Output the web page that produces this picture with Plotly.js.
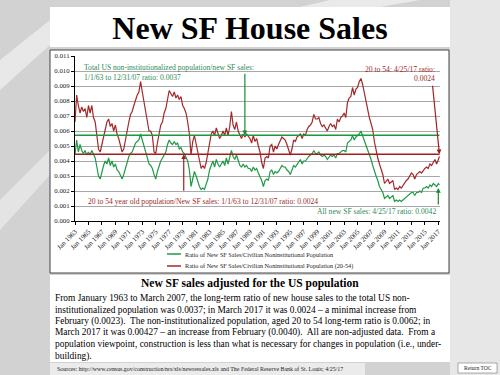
<!DOCTYPE html>
<html>
<head>
<meta charset="utf-8">
<script src="https://cdn.plot.ly/plotly-3.0.1.min.js"></script>
<style>html,body{margin:0;padding:0;background:#d6d6d6;}#chart{width:500px;height:375px;}</style>
</head>
<body>
<div id="chart"></div>
<script>
// ---- Data (quarterly readings, Jan/Apr/Jul/Oct from Jan 1963; last point Mar 2017) ----
const startYear = 1963;
const lastDate = '2017-03-01';
const ratioTotal = [
0.0044,0.0054,0.0046,0.0051, 0.0047,0.0045,0.0047,0.0044, 0.0046,0.0044,0.0047,0.0044,
0.0042,0.0036,0.0030,0.0028, 0.0033,0.0037,0.0040,0.0038, 0.0042,0.0037,0.0040,0.0036,
0.0038,0.0034,0.0033,0.0030, 0.0028,0.0031,0.0035,0.0038, 0.0043,0.0045,0.0046,0.0049,
0.0052,0.0053,0.0054,0.0058, 0.0054,0.0049,0.0046,0.0042, 0.0038,0.0037,0.0035,0.0031,
0.0028,0.0033,0.0037,0.0040, 0.0042,0.0044,0.0046,0.0051, 0.0054,0.0052,0.0051,0.0053,
0.0051,0.0052,0.0048,0.0049, 0.0046,0.0045,0.0043,0.0040, 0.0034,0.0023,0.0028,0.0033,
0.0030,0.0026,0.0023,0.0021, 0.0022,0.0021,0.0024,0.0028, 0.0034,0.0037,0.0040,0.0036,
0.0041,0.0038,0.0036,0.0038, 0.0040,0.0037,0.0042,0.0038, 0.0043,0.0047,0.0043,0.0041,
0.0044,0.0040,0.0037,0.0036, 0.0038,0.0036,0.0037,0.0035, 0.0035,0.0033,0.0036,0.0034,
0.0035,0.0032,0.0030,0.0027, 0.0023,0.0027,0.0028,0.0027, 0.0033,0.0034,0.0031,0.0033,
0.0032,0.0033,0.0035,0.0037, 0.0036,0.0036,0.0034,0.0033, 0.0031,0.0034,0.0037,0.0036,
0.0038,0.0040,0.0041,0.0038, 0.0040,0.0040,0.0042,0.0043, 0.0044,0.0045,0.0047,0.0045,
0.0045,0.0046,0.0044,0.0043, 0.0044,0.0043,0.0041,0.0043, 0.0044,0.0043,0.0044,0.0042,
0.0045,0.0045,0.0046,0.0047, 0.0047,0.0046,0.0052,0.0053, 0.0054,0.0057,0.0054,0.0056,
0.0057,0.0058,0.0060,0.0057, 0.0054,0.0051,0.0047,0.0044, 0.0041,0.0037,0.0033,0.0030,
0.0027,0.0023,0.0021,0.0019, 0.0015,0.0016,0.0017,0.0015, 0.0016,0.0017,0.0013,0.0014,
0.0013,0.0014,0.0013,0.0014, 0.0015,0.0016,0.0017,0.0018, 0.0019,0.0019,0.0017,0.0019,
0.0019,0.0020,0.0019,0.0022, 0.0022,0.0023,0.0022,0.0024, 0.0023,0.0025,0.0024,0.0023,
0.0025,0.0024];
const ratio2054 = [
0.0066,0.0084,0.0077,0.0072, 0.0076,0.0073,0.0075,0.0069, 0.0077,0.0072,0.0077,0.0069,
0.0066,0.0057,0.0048,0.0046, 0.0051,0.0057,0.0063,0.0066, 0.0068,0.0063,0.0065,0.0060,
0.0064,0.0058,0.0055,0.0050, 0.0046,0.0048,0.0055,0.0059, 0.0066,0.0071,0.0073,0.0077,
0.0081,0.0084,0.0086,0.0093, 0.0086,0.0079,0.0074,0.0066, 0.0060,0.0060,0.0057,0.0046,
0.0045,0.0052,0.0059,0.0064, 0.0066,0.0072,0.0075,0.0082, 0.0087,0.0085,0.0083,0.0086,
0.0082,0.0084,0.0081,0.0083, 0.0077,0.0075,0.0072,0.0066, 0.0058,0.0044,0.0053,0.0057,
0.0051,0.0045,0.0039,0.0035, 0.0037,0.0035,0.0039,0.0046, 0.0053,0.0058,0.0060,0.0057,
0.0062,0.0058,0.0055,0.0057, 0.0060,0.0057,0.0062,0.0057, 0.0063,0.0073,0.0064,0.0061,
0.0066,0.0060,0.0057,0.0055, 0.0058,0.0056,0.0058,0.0056, 0.0055,0.0052,0.0057,0.0053,
0.0055,0.0050,0.0046,0.0039, 0.0035,0.0042,0.0043,0.0042, 0.0050,0.0051,0.0046,0.0050,
0.0048,0.0051,0.0053,0.0056, 0.0055,0.0054,0.0051,0.0047, 0.0044,0.0048,0.0054,0.0053,
0.0056,0.0057,0.0058,0.0055, 0.0058,0.0057,0.0061,0.0063, 0.0064,0.0066,0.0071,0.0068,
0.0068,0.0069,0.0065,0.0063, 0.0064,0.0062,0.0060,0.0063, 0.0065,0.0063,0.0064,0.0061,
0.0068,0.0066,0.0069,0.0070, 0.0072,0.0069,0.0079,0.0082, 0.0083,0.0089,0.0084,0.0088,
0.0089,0.0093,0.0095,0.0091, 0.0085,0.0080,0.0074,0.0069, 0.0065,0.0061,0.0053,0.0047,
0.0042,0.0038,0.0034,0.0031, 0.0025,0.0027,0.0028,0.0025, 0.0026,0.0027,0.0021,0.0022,
0.0021,0.0023,0.0022,0.0024, 0.0025,0.0027,0.0028,0.0030, 0.0032,0.0031,0.0028,0.0031,
0.0032,0.0033,0.0032,0.0034, 0.0035,0.0036,0.0035,0.0038, 0.0037,0.0039,0.0041,0.0038,
0.0042,0.0043];
const refTotal = 0.00571;   // green long-term reference line
const ref2054 = 0.00445;    // red long-term reference line
const refStart = '1963-01-01', refEnd = '2017-03-01';
const seriesNames = ['Ratio of New SF Sales/Civilian Noninstitutional Population',
                     'Ratio of New SF Sales/Civilian Noninstitutional Population (20-54)'];
const paragraph = [
 'From January 1963 to March 2007, the long-term ratio of new house sales to the total US non-',
 'institutionalized population was 0.0037; in March 2017 it was 0.0024 \u2013 a minimal increase from',
 'February (0.0023).  The non-institutionalized population, aged 20 to 54 long-term ratio is 0.0062; in',
 'March 2017 it was 0.00427 \u2013 an increase from February (0.0040).  All are non-adjusted data.  From a',
 'population viewpoint, construction is less than what is necessary for changes in population (i.e., under-',
 'building).'];

// dates
const dates = ratioTotal.map((_, i) => {
  const y = startYear + Math.floor(i / 4), m = 1 + 3 * (i % 4);
  return y + '-' + String(m).padStart(2, '0') + '-01';
});
dates[dates.length - 1] = lastDate;

// ---- layout helpers (pixel -> paper) ----
const M = {l: 75, r: 60, t: 56, b: 154};
const PW = 500 - M.l - M.r, PH = 375 - M.t - M.b;
const px = x => (x - M.l) / PW;
const py = y => (375 - M.b - y) / PH;
const SERIF = 'Liberation Serif, Times New Roman, serif';
const GREEN = '#1f9a45', RED = '#a3282a', GTXT = '#2e8b57', RTXT = '#9e2a2a';

const traces = [
  {x: dates, y: ratioTotal, type: 'scatter', mode: 'lines', name: seriesNames[0],
   line: {color: GREEN, width: 1.2}, showlegend: false},
  {x: dates, y: ratio2054, type: 'scatter', mode: 'lines', name: seriesNames[1],
   line: {color: RED, width: 1.2}, showlegend: false}
];

function rect(x0, y0, x1, y1, fill, line) {
  return {type: 'rect', xref: 'paper', yref: 'paper', x0: px(x0), x1: px(x1), y0: py(y0), y1: py(y1),
          fillcolor: fill, line: line || {width: 0}, layer: 'below'};
}
function poly(pts, fill) {
  const d = pts.map((p, i) => (i ? 'L' : 'M') + px(p[0]).toFixed(4) + ',' + py(p[1]).toFixed(4)).join(' ') + ' Z';
  return {type: 'path', xref: 'paper', yref: 'paper', path: d, fillcolor: fill, line: {width: 0}, layer: 'below'};
}
function hline(x0, x1, y, color) {
  return {type: 'line', xref: 'paper', yref: 'paper', x0: px(x0), x1: px(x1), y0: py(y), y1: py(y),
          line: {color: color, width: 1.5}};
}
const shapes = [
  // background "photo" light areas
  rect(450, 0, 500, 375, 'rgba(240,240,240,0.7)'),
  poly([[0, 60], [50, 20], [50, 45], [0, 90]], 'rgba(250,250,250,0.55)'),
  poly([[0, 200], [50, 150], [50, 175], [0, 230]], 'rgba(250,250,250,0.45)'),
  poly([[330, 0], [420, 0], [380, 7], [300, 7]], 'rgba(250,250,250,0.6)'),
  rect(50, 7, 450, 47, '#ffffff'),
  rect(50, 50, 449, 273, '#ffffff', {color: '#444', width: 1}),
  rect(50, 275, 450, 362, '#ffffff'),
  rect(50, 363, 365, 375, 'rgba(255,255,255,0.55)'),
  rect(458, 363, 497, 373, '#ffffff', {color: '#777', width: 0.6}),
  {type: 'line', xref: 'x', yref: 'y', x0: refStart, x1: refEnd, y0: refTotal, y1: refTotal,
   line: {color: '#1a9a3a', width: 1.5}},
  {type: 'line', xref: 'x', yref: 'y', x0: refStart, x1: refEnd, y0: ref2054, y1: ref2054,
   line: {color: '#a01e22', width: 1.5}},
  hline(167, 181, 254, GREEN),
  hline(167, 181, 266, RED)
];

function txt(x, y, text, size, color, anchor, extra) {
  return Object.assign({xref: 'paper', yref: 'paper', x: px(x), y: py(y), text: text, showarrow: false,
    xanchor: anchor || 'left', yanchor: 'middle', font: {family: SERIF, size: size, color: color}}, extra || {});
}
const ann = [
  txt(82, 67, 'Total US non-institutionalized population/new SF sales:', 7.6, GTXT),
  txt(82, 77, '1/1/63 to 12/31/07 ratio: 0.0037', 7.6, GTXT),
  txt(437, 69, '20 to 54: 4/25/17 ratio:', 7.6, RTXT, 'right'),
  txt(437, 78, '0.0024', 7.6, RTXT, 'right'),
  txt(86, 201, '20 to 54 year old population/New SF sales: 1/1/63 to 12/31/07 ratio: 0.0024', 7.6, RTXT),
  txt(438, 211, 'All new SF sales: 4/25/17 ratio: 0.0042', 7.6, GTXT, 'right'),
  txt(183, 254, seriesNames[0], 6.2, '#222'),
  txt(183, 266, seriesNames[1], 6.2, '#222'),
  txt(250, 283, '<b>New SF sales adjusted for the US population</b>', 11.5, '#000', 'center'),
  txt(55, 369, 'Sources: http://www.census.gov/construction/nrs/xls/newressales.xls and The Federal Reserve Bank of St. Louis; 4/25/17', 5.9, '#222'),
  txt(477.5, 368, 'Return TOC', 5.6, '#222', 'center'),
  // arrows
  {xref: 'x', yref: 'y', x: '1988-04-01', y: refTotal, ax: 0, ay: -63, text: '', showarrow: true,
   arrowhead: 2, arrowsize: 0.8, arrowwidth: 1.2, arrowcolor: '#1a8a30'},
  {xref: 'x', yref: 'y', x: '1979-03-01', y: ref2054, ax: 0, ay: 38, text: '', showarrow: true,
   arrowhead: 2, arrowsize: 0.8, arrowwidth: 1.2, arrowcolor: '#a01e22'},
  {xref: 'x', yref: 'y', x: '2017-03-01', y: ref2054, ax: -7, ay: -70, text: '', showarrow: true,
   arrowhead: 2, arrowsize: 0.8, arrowwidth: 1.2, arrowcolor: '#a01e22'},
  {xref: 'x', yref: 'y', x: '2017-01-01', y: 0.0022, ax: 0, ay: 18, text: '', showarrow: true,
   arrowhead: 2, arrowsize: 0.8, arrowwidth: 1.2, arrowcolor: '#1a8a30'}
];
paragraph.forEach((line, i) => ann.push(txt(53, 298 + i * 11.6, line, 9.4, '#000')));

const layout = {
  width: 500, height: 375,
  paper_bgcolor: '#d2d2d2', plot_bgcolor: 'rgba(0,0,0,0)',
  margin: M,
  title: {text: '<b>New SF House Sales</b>', font: {family: SERIF, size: 32, color: '#000'},
          x: 0.5, xref: 'container', xanchor: 'center', y: 1 - 28 / 375, yref: 'container', yanchor: 'middle'},
  xaxis: {type: 'date', range: ['1963-01-01', '2017-04-01'], tick0: '1963-01-01', dtick: 'M24',
          tickformat: '%b %Y', tickangle: -45, ticks: 'outside', ticklen: 3, tickcolor: '#000',
          showgrid: false, showline: true, linecolor: '#000', linewidth: 1, zeroline: false,
          tickfont: {family: SERIF, size: 7, color: '#222'}},
  yaxis: {range: [0, 0.011], dtick: 0.001, tickformat: '.3f', ticks: 'outside', ticklen: 3, tickcolor: '#000',
          showgrid: true, gridcolor: '#a8a8a8', gridwidth: 1, showline: true, linecolor: '#000', linewidth: 1,
          zeroline: false, tickfont: {family: SERIF, size: 6.8, color: '#222'}},
  shapes: shapes, annotations: ann, showlegend: false
};
Plotly.newPlot('chart', traces, layout, {displayModeBar: false, staticPlot: true});
</script>
</body>
</html>
